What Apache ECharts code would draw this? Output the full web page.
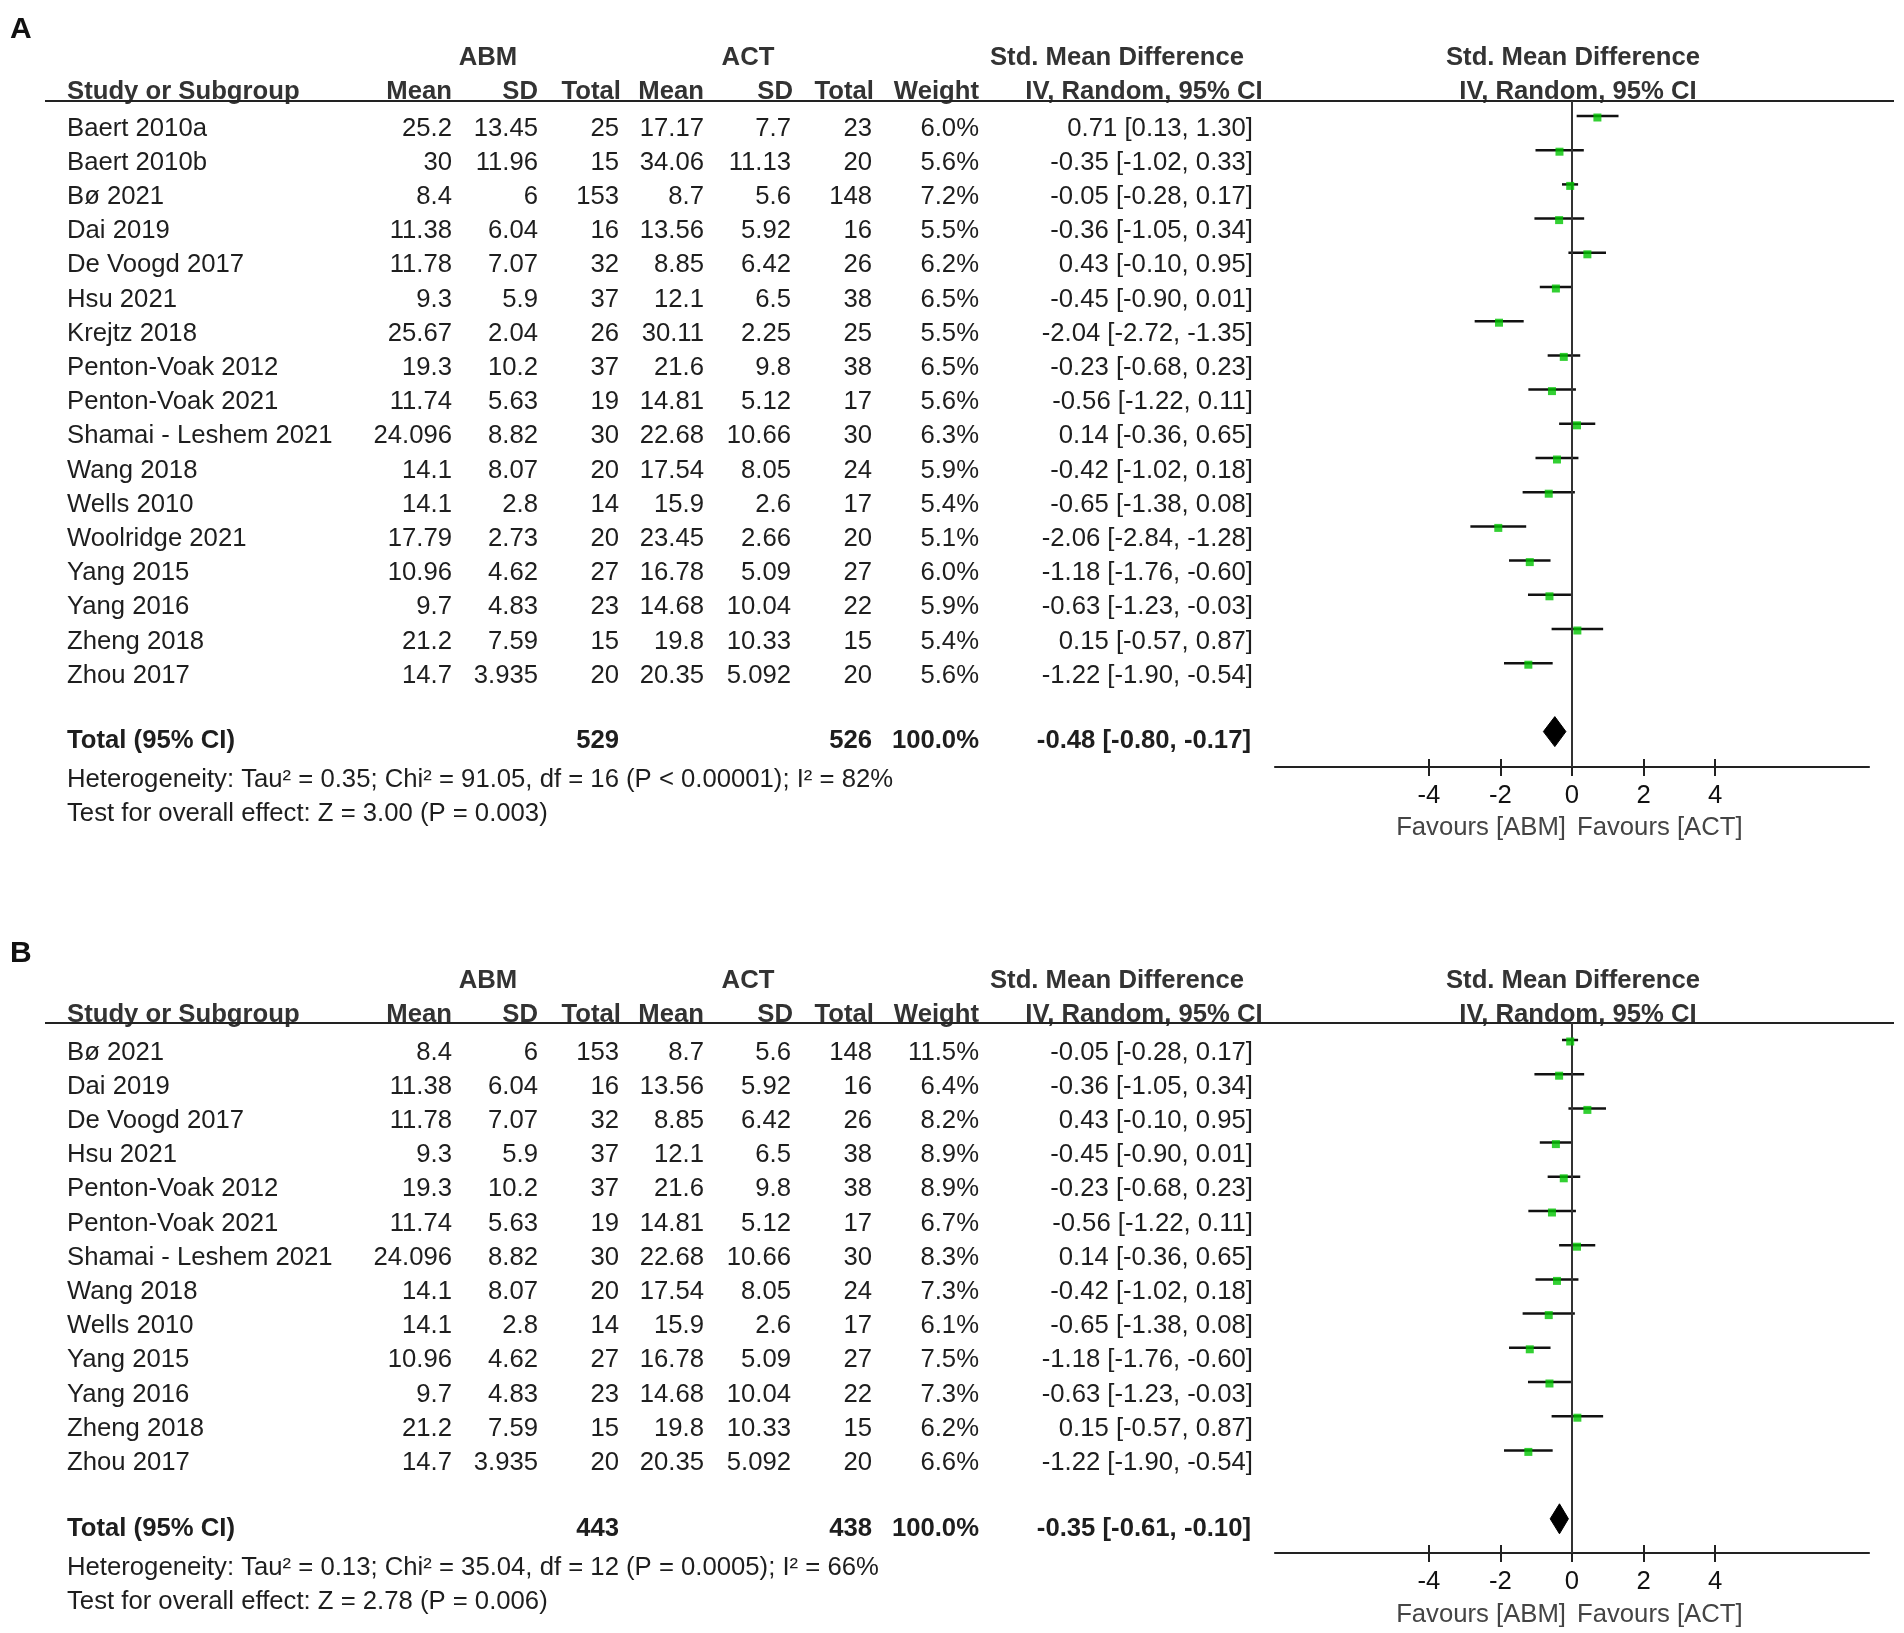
<!DOCTYPE html>
<html>
<head>
<meta charset="utf-8">
<script src="https://cdn.jsdelivr.net/npm/echarts@6/dist/echarts.min.js"></script>
<style>
html,body{margin:0;padding:0;background:#fff;}
#main{width:1904px;height:1633px;}
</style>
</head>
<body>
<div id="main"></div>
<script>
// ---------- Panel A data ----------
const studiesA = ['Baert 2010a','Baert 2010b','Bø 2021','Dai 2019','De Voogd 2017','Hsu 2021','Krejtz 2018','Penton-Voak 2012','Penton-Voak 2021','Shamai - Leshem 2021','Wang 2018','Wells 2010','Woolridge 2021','Yang 2015','Yang 2016','Zheng 2018','Zhou 2017'];
const abmMeanA = ['25.2','30','8.4','11.38','11.78','9.3','25.67','19.3','11.74','24.096','14.1','14.1','17.79','10.96','9.7','21.2','14.7'];
const abmSdA   = ['13.45','11.96','6','6.04','7.07','5.9','2.04','10.2','5.63','8.82','8.07','2.8','2.73','4.62','4.83','7.59','3.935'];
const abmNA    = [25,15,153,16,32,37,26,37,19,30,20,14,20,27,23,15,20];
const actMeanA = ['17.17','34.06','8.7','13.56','8.85','12.1','30.11','21.6','14.81','22.68','17.54','15.9','23.45','16.78','14.68','19.8','20.35'];
const actSdA   = ['7.7','11.13','5.6','5.92','6.42','6.5','2.25','9.8','5.12','10.66','8.05','2.6','2.66','5.09','10.04','10.33','5.092'];
const actNA    = [23,20,148,16,26,38,25,38,17,30,24,17,20,27,22,15,20];
const weightA  = ['6.0%','5.6%','7.2%','5.5%','6.2%','6.5%','5.5%','6.5%','5.6%','6.3%','5.9%','5.4%','5.1%','6.0%','5.9%','5.4%','5.6%'];
const smdA     = [0.71,-0.35,-0.05,-0.36,0.43,-0.45,-2.04,-0.23,-0.56,0.14,-0.42,-0.65,-2.06,-1.18,-0.63,0.15,-1.22];
const lowA     = [0.13,-1.02,-0.28,-1.05,-0.10,-0.90,-2.72,-0.68,-1.22,-0.36,-1.02,-1.38,-2.84,-1.76,-1.23,-0.57,-1.90];
const highA    = [1.30,0.33,0.17,0.34,0.95,0.01,-1.35,0.23,0.11,0.65,0.18,0.08,-1.28,-0.60,-0.03,0.87,-0.54];
const totalA   = {abmN:'529', actN:'526', weight:'100.0%', est:-0.48, low:-0.80, high:-0.17};
const hetA     = 'Heterogeneity: Tau² = 0.35; Chi² = 91.05, df = 16 (P < 0.00001); I² = 82%';
const testA    = 'Test for overall effect: Z = 3.00 (P = 0.003)';

// ---------- Panel B data ----------
const studiesB = ['Bø 2021','Dai 2019','De Voogd 2017','Hsu 2021','Penton-Voak 2012','Penton-Voak 2021','Shamai - Leshem 2021','Wang 2018','Wells 2010','Yang 2015','Yang 2016','Zheng 2018','Zhou 2017'];
const abmMeanB = ['8.4','11.38','11.78','9.3','19.3','11.74','24.096','14.1','14.1','10.96','9.7','21.2','14.7'];
const abmSdB   = ['6','6.04','7.07','5.9','10.2','5.63','8.82','8.07','2.8','4.62','4.83','7.59','3.935'];
const abmNB    = [153,16,32,37,37,19,30,20,14,27,23,15,20];
const actMeanB = ['8.7','13.56','8.85','12.1','21.6','14.81','22.68','17.54','15.9','16.78','14.68','19.8','20.35'];
const actSdB   = ['5.6','5.92','6.42','6.5','9.8','5.12','10.66','8.05','2.6','5.09','10.04','10.33','5.092'];
const actNB    = [148,16,26,38,38,17,30,24,17,27,22,15,20];
const weightB  = ['11.5%','6.4%','8.2%','8.9%','8.9%','6.7%','8.3%','7.3%','6.1%','7.5%','7.3%','6.2%','6.6%'];
const smdB     = [-0.05,-0.36,0.43,-0.45,-0.23,-0.56,0.14,-0.42,-0.65,-1.18,-0.63,0.15,-1.22];
const lowB     = [-0.28,-1.05,-0.10,-0.90,-0.68,-1.22,-0.36,-1.02,-1.38,-1.76,-1.23,-0.57,-1.90];
const highB    = [0.17,0.34,0.95,0.01,0.23,0.11,0.65,0.18,0.08,-0.60,-0.03,0.87,-0.54];
const totalB   = {abmN:'443', actN:'438', weight:'100.0%', est:-0.35, low:-0.61, high:-0.10};
const hetB     = 'Heterogeneity: Tau² = 0.13; Chi² = 35.04, df = 12 (P = 0.0005); I² = 66%';
const testB    = 'Test for overall effect: Z = 2.78 (P = 0.006)';

const tickValues = [-4,-2,0,2,4];
const favLeft = 'Favours [ABM]';
const favRight = 'Favours [ACT]';

// ---------- layout ----------
const FONT = '"Liberation Sans", Arial, sans-serif';
const FS = 25.7;
const ROW = 34.2;
const DY = 2.5;
const TXT = '#1e1e1e';
const HDR = '#333333';
const GREEN = '#00c400';
const cols = {name:67, m1:452, s1:538, n1:619, m2:704, s2:791, n2:872, w:979, ci:1253};

function fmt(v){ return (v<0?'-':'') + Math.abs(v).toFixed(2); }
function ciText(e,l,h){ return fmt(e)+' ['+fmt(l)+', '+fmt(h)+']'; }

const graphics = [];
function txt(x,y,s,align,bold,color,size){
  graphics.push({type:'text', silent:true, style:{text:s, x:x, y:y+DY, align:align||'left', verticalAlign:'middle',
    fontFamily:FONT, fontSize:size||FS, fontWeight:bold?'bold':'normal', fill:color||TXT}});
}
function hline(x1,x2,y,w,c){
  graphics.push({type:'line', silent:true, shape:{x1:x1,y1:y,x2:x2,y2:y}, style:{stroke:c||'#222', lineWidth:w||2}});
}

function panel(P){
  txt(10, P.labelY, P.label, 'left', true, '#111', 30);
  const h1 = P.hdrY, h2 = P.hdrY+34;
  txt(488, h1, 'ABM', 'center', true, HDR);
  txt(748, h1, 'ACT', 'center', true, HDR);
  txt(1117, h1, 'Std. Mean Difference', 'center', true, HDR);
  txt(1573, h1, 'Std. Mean Difference', 'center', true, HDR);
  txt(cols.name, h2, 'Study or Subgroup', 'left', true, HDR);
  txt(cols.m1, h2, 'Mean', 'right', true, HDR);
  txt(cols.s1, h2, 'SD', 'right', true, HDR);
  txt(cols.n1+2, h2, 'Total', 'right', true, HDR);
  txt(cols.m2, h2, 'Mean', 'right', true, HDR);
  txt(cols.s2+2, h2, 'SD', 'right', true, HDR);
  txt(cols.n2+2, h2, 'Total', 'right', true, HDR);
  txt(cols.w, h2, 'Weight', 'right', true, HDR);
  txt(1144, h2, 'IV, Random, 95% CI', 'center', true, HDR);
  txt(1578, h2, 'IV, Random, 95% CI', 'center', true, HDR);
  hline(45, 1894, P.lineY, 2.2, '#222');
  P.names.forEach((n,i)=>{
    const y = P.rowY + ROW*i;
    txt(cols.name, y, n, 'left');
    txt(cols.m1, y, P.m1[i], 'right');
    txt(cols.s1, y, P.s1[i], 'right');
    txt(cols.n1, y, String(P.n1[i]), 'right');
    txt(cols.m2, y, P.m2[i], 'right');
    txt(cols.s2, y, P.s2[i], 'right');
    txt(cols.n2, y, String(P.n2[i]), 'right');
    txt(cols.w, y, P.w[i], 'right');
    txt(cols.ci, y, ciText(P.e[i],P.l[i],P.h[i]), 'right');
  });
  const ty = P.totalY;
  txt(cols.name, ty, 'Total (95% CI)', 'left', true);
  txt(cols.n1, ty, P.tot.abmN, 'right', true);
  txt(cols.n2, ty, P.tot.actN, 'right', true);
  txt(cols.w, ty, P.tot.weight, 'right', true);
  txt(cols.ci-2, ty, ciText(P.tot.est,P.tot.low,P.tot.high), 'right', true);
  txt(cols.name, ty+39, P.het, 'left');
  txt(cols.name, ty+73, P.test, 'left');
  txt(1566, P.favY, favLeft, 'right', false, '#444');
  txt(1577, P.favY, favRight, 'left', false, '#444');
}

const PA = {label:'A', labelY:27, hdrY:55, lineY:101, rowY:126, totalY:738, favY:825,
  names:studiesA, m1:abmMeanA, s1:abmSdA, n1:abmNA, m2:actMeanA, s2:actSdA, n2:actNA, w:weightA, e:smdA, l:lowA, h:highA,
  tot:totalA, het:hetA, test:testA};
const PB = {label:'B', labelY:951, hdrY:978, lineY:1023, rowY:1050, totalY:1526, favY:1612,
  names:studiesB, m1:abmMeanB, s1:abmSdB, n1:abmNB, m2:actMeanB, s2:actSdB, n2:actNB, w:weightB, e:smdB, l:lowB, h:highB,
  tot:totalB, het:hetB, test:testB};
panel(PA);
panel(PB);

// ---------- forest plot grids ----------
const XMIN = -8.3, XMAX = 8.3;
const gridA = {left:1275, width:594, top:101, height:666};
const gridB = {left:1275, width:594, top:1023, height:530};
function yRange(g, firstOffset){ const mn = -firstOffset/ROW; return {min:mn, max:mn + g.height/ROW}; }
const yrA = yRange(gridA, 15);
const yrB = yRange(gridB, 17);

function xAxes(gi){
  const base = {type:'value', gridIndex:gi, min:XMIN, max:XMAX, splitLine:{show:false}};
  return [
    Object.assign({}, base, {position:'bottom',
      axisLine:{show:true, onZero:false, lineStyle:{color:'#222', width:2.2}},
      axisTick:{show:true, inside:false, length:9, customValues:tickValues, lineStyle:{color:'#222', width:2}},
      axisLabel:{show:true, customValues:tickValues, color:'#111', fontFamily:FONT, fontSize:FS, margin:16,
        formatter:v=>String(v)}}),
    Object.assign({}, base, {position:'bottom',
      axisLine:{show:false, onZero:false},
      axisTick:{show:true, inside:true, length:8, customValues:tickValues, lineStyle:{color:'#222', width:2}},
      axisLabel:{show:false}})
  ];
}
function yAxis(gi, yr){
  return {type:'value', gridIndex:gi, inverse:true, min:yr.min, max:yr.max, show:false};
}

function ciSeries(xi, yi, lows, highs){
  return {type:'custom', xAxisIndex:xi, yAxisIndex:yi, silent:true,
    data: lows.map((l,i)=>[l, highs[i], i]),
    encode:{x:[0,1], y:2},
    renderItem:(params, api)=>{
      const a = api.coord([api.value(0), api.value(2)]);
      const b = api.coord([api.value(1), api.value(2)]);
      return {type:'line', shape:{x1:a[0], y1:a[1], x2:b[0], y2:b[1]}, style:{stroke:'#111', lineWidth:2.5}};
    }};
}
function pointSeries(xi, yi, est){
  return {type:'scatter', xAxisIndex:xi, yAxisIndex:yi, silent:true, symbol:'rect', symbolSize:8, symbolOffset:[0,1.5],
    itemStyle:{color:GREEN}, data: est.map((e,i)=>[e,i]), z:5,
    markLine:{silent:true, symbol:['none','none'], label:{show:false}, lineStyle:{color:'#333', width:2, type:'solid'},
      data:[{xAxis:0}]}};
}
function diamondSeries(xi, yi, tot, row){
  return {type:'custom', xAxisIndex:xi, yAxisIndex:yi, silent:true,
    data:[[tot.low, tot.est, tot.high, row]], encode:{x:[0,1,2], y:3},
    renderItem:(params, api)=>{
      const lo = api.coord([api.value(0), api.value(3)]);
      const c  = api.coord([api.value(1), api.value(3)]);
      const hi = api.coord([api.value(2), api.value(3)]);
      return {type:'polygon', shape:{points:[[lo[0],c[1]],[c[0],c[1]-15],[hi[0],c[1]],[c[0],c[1]+15]]},
        style:{fill:'#000', stroke:'#000'}};
    }};
}

const option = {
  animation:false,
  backgroundColor:'#fff',
  grid:[Object.assign({containLabel:false}, gridA), Object.assign({containLabel:false}, gridB)],
  xAxis:[...xAxes(0), ...xAxes(1)],
  yAxis:[yAxis(0, yrA), yAxis(1, yrB)],
  series:[
    ciSeries(0,0,lowA,highA), pointSeries(0,0,smdA), diamondSeries(0,0,totalA, studiesA.length+1),
    ciSeries(2,1,lowB,highB), pointSeries(2,1,smdB), diamondSeries(2,1,totalB, studiesB.length+1)
  ],
  graphic:graphics
};

const chart = echarts.init(document.getElementById('main'), null, {renderer:'canvas'});
chart.setOption(option);
</script>
</body>
</html>
